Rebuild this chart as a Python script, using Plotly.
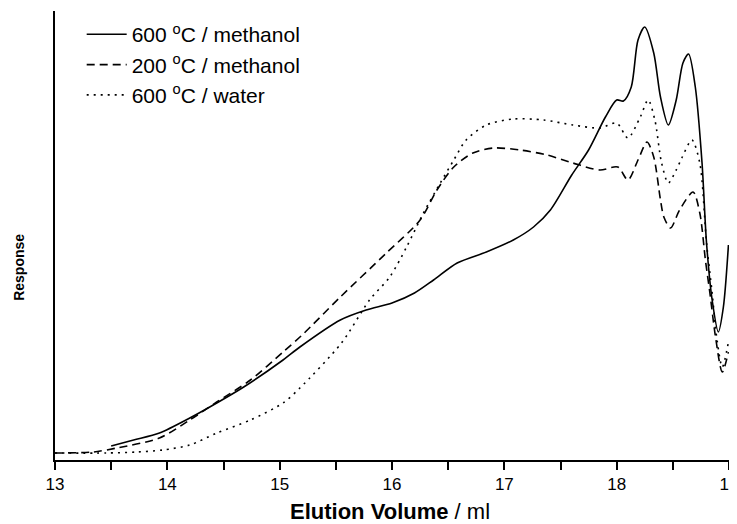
import plotly.graph_objects as go

# Elution volume (ml) and response (arbitrary units)
x_600_meoh = [13.5, 13.7, 13.93, 14.2, 14.44, 14.68, 15.03, 15.18, 15.54, 15.77, 16.0, 16.2, 16.37,
              16.58, 16.84, 17.08, 17.26, 17.41, 17.6, 17.75, 17.9, 18.0, 18.06, 18.13, 18.19,
              18.25, 18.33, 18.39, 18.46, 18.53, 18.59, 18.64, 18.70, 18.76, 18.80, 18.85,
              18.905, 18.95, 18.995]
y_600_meoh = [14, 20, 27, 42, 57, 73, 100, 113, 140, 150, 157, 167, 180,
              197, 208, 220, 233, 250, 285, 310, 343, 360, 359, 373, 420,
              433, 407, 363, 335, 360, 397, 406, 373, 297, 217, 160,
              128, 153, 215]

x_200_meoh = [13.0, 13.34, 13.55, 13.93, 14.2, 14.44, 14.74, 15.03, 15.2, 15.54, 15.95, 16.25,
              16.4, 16.55, 16.72, 16.9, 17.14, 17.38, 17.61, 17.85, 18.01, 18.10, 18.19,
              18.27, 18.33, 18.39, 18.42, 18.48, 18.56, 18.68, 18.74, 18.79, 18.83, 18.88,
              18.94, 18.995]
y_200_meoh = [7, 8, 12, 22, 40, 58, 80, 108, 125, 163, 207, 240,
              270, 293, 307, 312, 310, 305, 297, 290, 293, 280, 300,
              318, 303, 260, 243, 232, 250, 268, 247, 200, 167, 123,
              88, 108]

x_600_water = [13.0, 13.46, 13.73, 13.96, 14.2, 14.44, 14.74, 15.03, 15.18, 15.55, 15.8, 15.98,
               16.13, 16.28, 16.43, 16.55, 16.66, 16.84, 17.08, 17.35, 17.61, 17.85, 18.0,
               18.10, 18.21, 18.28, 18.34, 18.40, 18.46, 18.53, 18.58, 18.67, 18.74, 18.80,
               18.85, 18.89, 18.94, 18.995]
y_600_water = [7, 7, 8, 10, 15, 27, 40, 57, 72, 117, 160, 183,
               213, 247, 277, 300, 320, 335, 341, 340, 335, 332, 337,
               322, 343, 360, 340, 297, 277, 290, 302, 320, 297, 217,
               167, 123, 93, 118]

x_ticks = [13, 14, 15, 16, 17, 18, 19]
series_names = ["600 <sup>o</sup>C / methanol", "200 <sup>o</sup>C / methanol", "600 <sup>o</sup>C / water"]

fig = go.Figure()
fig.add_trace(go.Scatter(x=x_600_meoh, y=y_600_meoh, mode="lines", name=series_names[0],
                         line=dict(color="black", width=1.6, shape="spline", smoothing=0.8)))
fig.add_trace(go.Scatter(x=x_200_meoh, y=y_200_meoh, mode="lines", name=series_names[1],
                         line=dict(color="black", width=1.6, dash="8px,5px", shape="spline", smoothing=0.8)))
fig.add_trace(go.Scatter(x=x_600_water, y=y_600_water, mode="lines", name=series_names[2],
                         line=dict(color="black", width=1.6, dash="2px,5px", shape="spline", smoothing=0.8)))

# page body adds an 8px offset, so the figure is 8px smaller and margins are shifted
fig.update_layout(
    width=729, height=516,
    margin=dict(l=47, r=8, t=3, b=64, autoexpand=False),
    paper_bgcolor="white", plot_bgcolor="white",
    font=dict(family="Liberation Sans, Arial, sans-serif", color="black"),
    showlegend=True,
    legend=dict(x=0.0396, y=0.993, xanchor="left", yanchor="top",
                font=dict(size=21, color="black"), bgcolor="rgba(0,0,0,0)",
                tracegroupgap=0, itemwidth=40),
    xaxis=dict(range=[13, 19], tickvals=x_ticks, ticktext=[str(v) for v in x_ticks],
               showgrid=False, zeroline=False, showline=True, linecolor="black", linewidth=1.5,
               ticks="outside", ticklen=8, tickwidth=1.5, tickcolor="black",
               tickfont=dict(size=17), ticklabeloverflow="allow", automargin=False,
               minor=dict(dtick=0.5, ticks="outside", ticklen=8, tickwidth=1.5, tickcolor="black")),
    yaxis=dict(range=[0, 449], showgrid=False, zeroline=False, showline=True, linecolor="black",
               linewidth=1.5, showticklabels=False, ticks="", automargin=False),
    annotations=[
        dict(text="<b>Elution Volume</b> / ml", xref="paper", yref="paper", x=0.497, y=-0.1136,
             xanchor="center", yanchor="middle", showarrow=False, font=dict(size=22)),
        dict(text="<b>Response</b>", xref="paper", yref="paper", x=-0.0534, y=0.428,
             xanchor="center", yanchor="middle", textangle=-90, showarrow=False, font=dict(size=14)),
    ],
)

fig.write_html("out.html")
